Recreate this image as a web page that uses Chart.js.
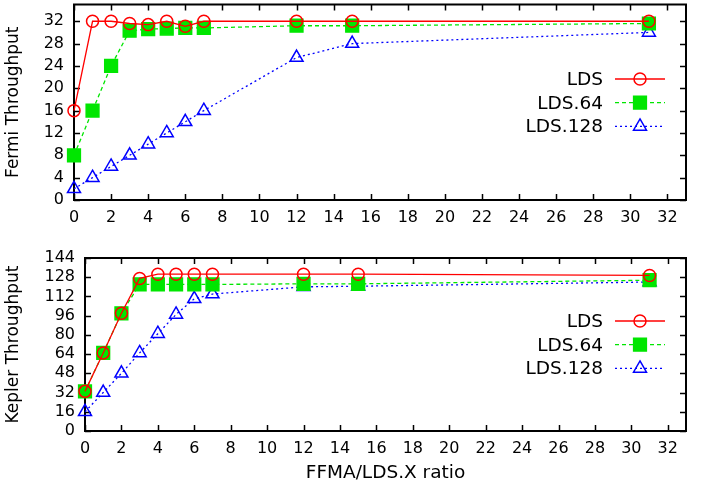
<!DOCTYPE html>
<html>
<head>
<meta charset="utf-8">
<script src="https://cdn.jsdelivr.net/npm/chart.js"></script>
<style>
  body { margin: 0; background: #fff; width: 702px; height: 497px; overflow: hidden; position: relative; }
  .box { position: absolute; left: 0; width: 702px; }
</style>
</head>
<body>
<div class="box" style="top:-6px;height:241px"><canvas id="fermi"></canvas></div>
<div class="box" style="top:240px;height:257px"><canvas id="kepler"></canvas></div>
<script>
// FFMA/LDS.X ratio
const ratios = [0, 1, 2, 3, 4, 5, 6, 7, 12, 15, 31];
const seriesNames = ["LDS", "LDS.64", "LDS.128"];

const fermiLDS    = [16, 32, 32, 31.6, 31.4, 32, 31.1, 32, 32, 32, 32];
const fermiLDS64  = [8, 16, 24, 30.3, 30.6, 30.7, 30.8, 30.8, 31.2, 31.2, 31.6];
const fermiLDS128 = [2, 4, 6, 8, 10, 12, 14, 16, 25.5, 28, 30];

const keplerLDS    = [33, 65, 98, 127, 130.5, 130.5, 130.5, 130.5, 130.5, 130.5, 129.5];
const keplerLDS64  = [33, 65, 98, 122, 122, 122, 122, 122, 122.5, 122.5, 125.5];
const keplerLDS128 = [16, 32, 48, 65, 81, 97, 110, 114, 120, 120.5, 124];

const xTicks = [0, 2, 4, 6, 8, 10, 12, 14, 16, 18, 20, 22, 24, 26, 28, 30, 32];

Chart.defaults.font.family = "'DejaVu Sans', sans-serif";
Chart.defaults.color = "#000";
Chart.defaults.animation = false;

const styles = [
  { color: "#ff0000", dash: [], pointStyle: "circle", radius: 6, fill: false },
  { color: "#00e600", dash: [4, 3], pointStyle: "rect", radius: 9, fill: true },
  { color: "#0000ff", dash: [2, 3], pointStyle: "triangle", radius: 7.5, fill: false }
];

function makeDatasets(lists) {
  return lists.map((vals, i) => {
    const s = styles[i];
    return {
      label: seriesNames[i],
      data: ratios.map((x, j) => ({ x: x, y: vals[j] })),
      borderColor: s.color,
      borderWidth: 1.3,
      borderDash: s.dash,
      pointStyle: s.pointStyle,
      pointRadius: s.radius,
      pointBorderWidth: 1.5,
      pointBorderColor: s.color,
      pointBackgroundColor: s.fill ? s.color : "rgba(0,0,0,0)",
      clip: false,
      tension: 0
    };
  });
}

// gnuplot style frame with inward ticks on all four sides
const framePlugin = {
  id: "frame",
  beforeDatasetsDraw(chart) {
    const ctx = chart.ctx, a = chart.chartArea;
    const xs = chart.scales.x, ys = chart.scales.y;
    ctx.save();
    ctx.strokeStyle = "#000";
    ctx.lineWidth = 1.5;
    ctx.beginPath();
    xs.ticks.forEach(t => {
      const p = Math.round(xs.getPixelForValue(t.value)) + 0.5;
      ctx.moveTo(p, a.bottom); ctx.lineTo(p, a.bottom - 6);
      ctx.moveTo(p, a.top); ctx.lineTo(p, a.top + 6);
    });
    ys.ticks.forEach(t => {
      const p = Math.round(ys.getPixelForValue(t.value)) + 0.5;
      ctx.moveTo(a.left, p); ctx.lineTo(a.left + 6, p);
      ctx.moveTo(a.right, p); ctx.lineTo(a.right - 6, p);
    });
    ctx.stroke();
    ctx.lineWidth = 2;
    ctx.strokeRect(a.left, a.top, a.right - a.left, a.bottom - a.top);
    ctx.restore();
  }
};

// key drawn inside the plot, text on the left, sample on the right
const keyPlugin = {
  id: "key",
  afterDraw(chart, args, opts) {
    const ctx = chart.ctx;
    ctx.save();
    chart.data.datasets.forEach((ds, i) => {
      const y = opts.top + i * opts.gap;
      ctx.font = "18.5px 'DejaVu Sans', sans-serif";
      ctx.fillStyle = "#000";
      ctx.textAlign = "right";
      ctx.textBaseline = "middle";
      ctx.fillText(ds.label, opts.textRight, y + 1);
      ctx.strokeStyle = ds.borderColor;
      ctx.lineWidth = ds.borderWidth;
      ctx.setLineDash(ds.borderDash);
      ctx.beginPath();
      ctx.moveTo(opts.lineLeft, y);
      ctx.lineTo(opts.lineLeft + 50, y);
      ctx.stroke();
      ctx.setLineDash([]);
      ctx.fillStyle = ds.pointBackgroundColor;
      ctx.lineWidth = ds.pointBorderWidth;
      Chart.helpers.drawPoint(ctx, {
        pointStyle: ds.pointStyle, radius: ds.pointRadius, rotation: 0, borderWidth: ds.pointBorderWidth
      }, opts.lineLeft + 25, y);
    });
    ctx.restore();
  }
};

function noEdgePad(s) {
  s.paddingTop = 0; s.paddingBottom = 0; s.paddingLeft = 0; s.paddingRight = 0;
}

function makeChart(id, lists, cfg) {
  return new Chart(document.getElementById(id), {
    type: "line",
    data: { datasets: makeDatasets(lists) },
    plugins: [framePlugin, keyPlugin],
    options: {
      responsive: true,
      maintainAspectRatio: false,
      layout: { padding: { top: cfg.padTop, right: 16, left: 0, bottom: 0 } },
      plugins: {
        legend: { display: false },
        tooltip: { enabled: false },
        key: cfg.key
      },
      scales: {
        x: {
          type: "linear",
          min: 0,
          max: 33,
          afterBuildTicks: s => { s.ticks = xTicks.map(v => ({ value: v })); },
          afterFit: s => { s.height = cfg.xHeight; noEdgePad(s); },
          grid: { display: false, drawTicks: false },
          border: { display: false },
          ticks: { padding: 8, font: { size: 16 }, maxRotation: 0, autoSkip: false },
          title: cfg.xTitle
        },
        y: {
          min: 0,
          max: cfg.yMax,
          afterBuildTicks: s => { s.ticks = cfg.yTicks.map(v => ({ value: v })); },
          afterFit: s => { s.width = cfg.yWidth; noEdgePad(s); },
          grid: { display: false, drawTicks: false },
          border: { display: false },
          ticks: { padding: 10, font: { size: 16 }, autoSkip: false },
          title: {
            display: true,
            text: cfg.yTitle,
            font: { size: 17 },
            padding: { top: 3, bottom: 0 }
          }
        }
      }
    }
  });
}

// top canvas starts 6px above the page so its plot top lands at y=5
makeChart("fermi", [fermiLDS, fermiLDS64, fermiLDS128], {
  padTop: 5, xHeight: 35, yWidth: 74, yMax: 35,
  yTicks: [0, 4, 8, 12, 16, 20, 24, 28, 32],
  yTitle: "Fermi Throughput",
  xTitle: { display: false },
  key: { top: 85, gap: 23.7, textRight: 603, lineLeft: 615 }
});

makeChart("kepler", [keplerLDS, keplerLDS64, keplerLDS128], {
  padTop: 18, xHeight: 66, yWidth: 85, yMax: 144,
  yTicks: [0, 16, 32, 48, 64, 80, 96, 112, 128, 144],
  yTitle: "Kepler Throughput",
  xTitle: { display: true, text: "FFMA/LDS.X ratio", font: { size: 18.5 }, padding: { top: 0, bottom: 13 } },
  key: { top: 81, gap: 23.7, textRight: 603, lineLeft: 615 }
});
</script>
</body>
</html>
